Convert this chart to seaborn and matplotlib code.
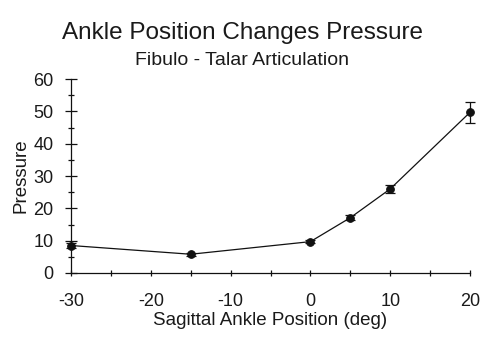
import matplotlib
matplotlib.use("Agg")
import matplotlib.pyplot as plt
import seaborn as sns
import pandas as pd
from matplotlib.ticker import MultipleLocator

angle = [-30, -15, 0, 5, 10, 20]
pressure = [8.5, 5.8, 9.7, 17.1, 26.0, 49.7]
err = [0.9, 0.4, 0.5, 0.7, 1.3, 3.2]

title = "Ankle Position Changes Pressure"
subtitle = "Fibulo - Talar Articulation"
xlabel = "Sagittal Ankle Position (deg)"
ylabel = "Pressure"

sns.set_theme(style="ticks")
plt.rcParams['font.family'] = ['Liberation Sans', 'DejaVu Sans']
plt.rcParams['axes.unicode_minus'] = False
txt = "#1a1a1a"

df = pd.DataFrame({"angle": angle, "pressure": pressure, "err": err})

fig = plt.figure(figsize=(5.0, 3.42), dpi=100)
ax = fig.add_axes([0.142, 0.2018, 0.798, 0.567])

eb = ax.errorbar(df["angle"], df["pressure"], yerr=df["err"], fmt="none",
                 ecolor="#111111", elinewidth=0.9, capsize=3.5, capthick=0.9, zorder=2)
for art in eb.lines[1] + eb.lines[2]:
    art.set_clip_on(False)
sns.lineplot(data=df, x="angle", y="pressure", ax=ax, color="#111111",
             linewidth=0.9, marker="o", markersize=5.5, markeredgecolor="#111111",
             markerfacecolor="#111111", zorder=3, clip_on=False)

ax.set_xlim(-30, 20)
ax.set_ylim(0, 60)
ax.xaxis.set_major_locator(MultipleLocator(10))
ax.xaxis.set_minor_locator(MultipleLocator(5))
ax.yaxis.set_major_locator(MultipleLocator(10))
ax.yaxis.set_minor_locator(MultipleLocator(5))
ax.tick_params(axis="y", which="major", direction="inout", length=9, width=0.9, colors="#111111", labelcolor=txt, labelsize=13, pad=8)
ax.tick_params(axis="y", which="minor", direction="inout", length=5, width=0.9, colors="#111111")
ax.tick_params(axis="x", which="major", direction="inout", length=5, width=0.9, colors="#111111", labelcolor=txt, labelsize=13, pad=12)
ax.tick_params(axis="x", which="minor", direction="inout", length=5, width=0.9, colors="#111111")

for s in ["top", "right"]:
    ax.spines[s].set_visible(False)
for s in ["left", "bottom"]:
    ax.spines[s].set_color("#111111")
    ax.spines[s].set_linewidth(0.9)

ax.set_xlabel(xlabel, fontsize=13.5, color=txt, labelpad=1)
ax.set_ylabel(ylabel, fontsize=13.5, color=txt, labelpad=3)

fig.text(0.485, 0.903, title, ha="center", va="center", fontsize=17.5, color=txt)
fig.text(0.484, 0.824, subtitle, ha="center", va="center", fontsize=14, color=txt)

fig.savefig("out.png", dpi=100, facecolor="white")
